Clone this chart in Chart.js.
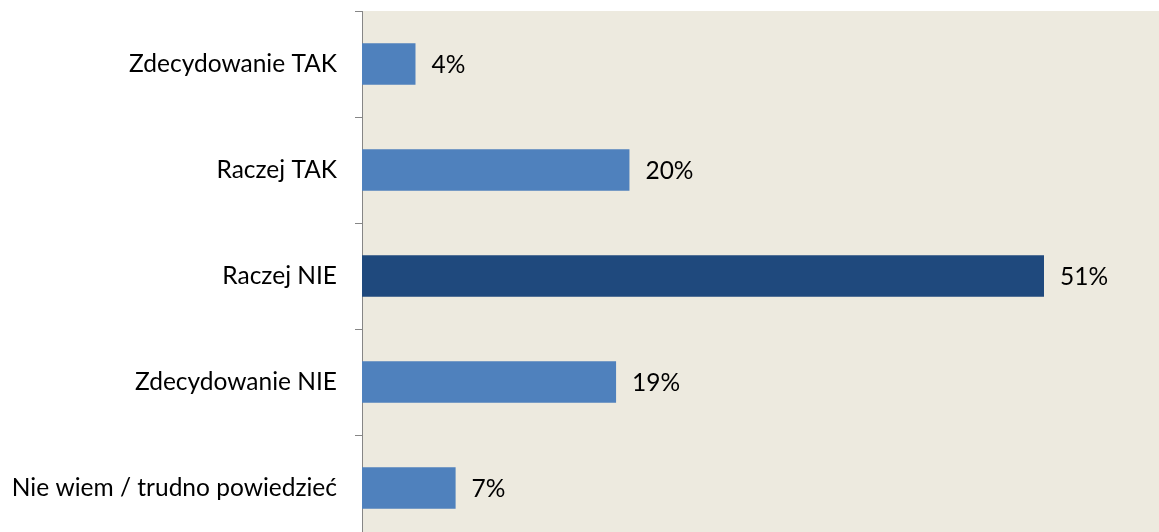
<!DOCTYPE html>
<html>
<head>
<meta charset="utf-8">
<script src="https://cdn.jsdelivr.net/npm/chart.js@4/dist/chart.umd.min.js"></script>
<style>
  html, body { margin: 0; padding: 0; background: #ffffff; overflow: hidden; }
  #wrap { position: relative; width: 1159px; height: 541px; }
</style>
</head>
<body>
<div id="wrap"><canvas id="c" width="1159" height="541"></canvas></div>
<script>
// Survey answers and their shares (percent)
const categories = [
  'Zdecydowanie TAK',
  'Raczej TAK',
  'Raczej NIE',
  'Zdecydowanie NIE',
  'Nie wiem / trudno powiedzieć'
];
const values = [4, 20, 51, 19, 7];
const valueLabels = ['4%', '20%', '51%', '19%', '7%'];
const barColors = ['#4F81BD', '#4F81BD', '#1F497D', '#4F81BD', '#4F81BD'];

const FONT = 'Lato, "Open Sans", sans-serif';
const FONT_SIZE = 24.5;

// Beige plot background
const plotBackground = {
  id: 'plotBackground',
  beforeDraw(chart) {
    const { ctx, chartArea: a } = chart;
    ctx.save();
    ctx.fillStyle = '#EDEADF';
    ctx.fillRect(a.left, a.top, a.right - a.left, a.bottom - a.top);
    ctx.restore();
  }
};

// Percentage labels to the right of each bar
const valueLabelPlugin = {
  id: 'valueLabels',
  afterDatasetsDraw(chart) {
    const { ctx } = chart;
    const meta = chart.getDatasetMeta(0);
    ctx.save();
    ctx.font = FONT_SIZE + 'px ' + FONT;
    ctx.fillStyle = '#000000';
    ctx.textAlign = 'left';
    ctx.textBaseline = 'middle';
    meta.data.forEach((bar, i) => {
      ctx.fillText(valueLabels[i], bar.x + 16, bar.y + 1);
    });
    ctx.restore();
  }
};

new Chart(document.getElementById('c'), {
  type: 'bar',
  data: {
    labels: categories,
    datasets: [{
      data: values,
      backgroundColor: barColors,
      borderWidth: 0,
      barPercentage: 0.39,
      categoryPercentage: 1.0
    }]
  },
  options: {
    indexAxis: 'y',
    responsive: false,
    animation: false,
    layout: { padding: { top: 11, right: 0, bottom: 0, left: 0 } },
    plugins: {
      legend: { display: false },
      tooltip: { enabled: false }
    },
    scales: {
      x: {
        display: false,
        min: 0,
        max: 59.6
      },
      y: {
        afterFit(scale) {
          scale.width = 362;
          scale.paddingTop = 0;
          scale.paddingBottom = 0;
        },
        border: { display: true, color: '#868686', width: 1 },
        grid: {
          offset: true,
          drawOnChartArea: false,
          drawTicks: true,
          tickLength: 7,
          color: '#868686'
        },
        ticks: {
          color: '#000000',
          padding: 18,
          font: { family: FONT, size: FONT_SIZE }
        }
      }
    }
  },
  plugins: [plotBackground, valueLabelPlugin]
});
</script>
</body>
</html>
